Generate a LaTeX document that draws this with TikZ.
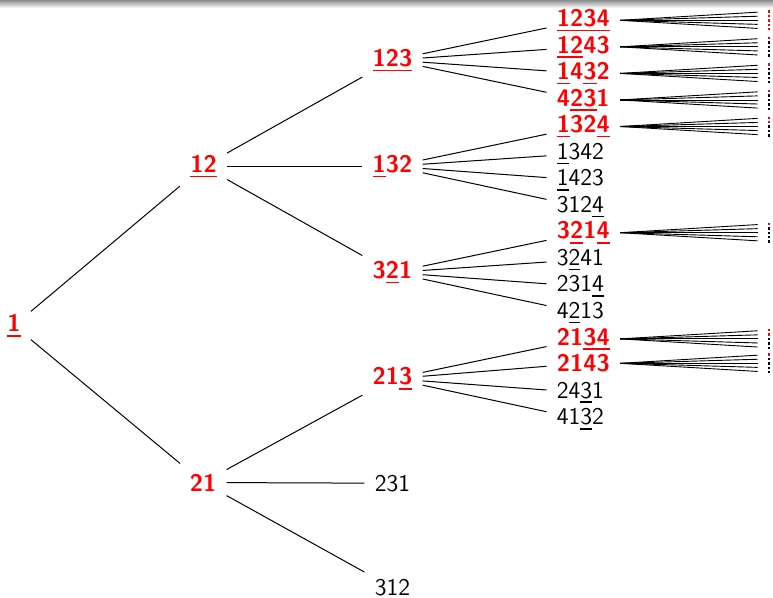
\documentclass[tikz,border=0pt]{standalone}
\usepackage{xcolor}
\usepackage{tikz}
\usetikzlibrary{calc}
\definecolor{invred}{HTML}{FF0000}
\definecolor{bargray}{HTML}{8C8C8C}
% underline one run of fixed points
\newcommand\fx[1]{\setbox0\hbox{#1}\rlap{\rule[-2.4pt]{\wd0}{0.75pt}}\box0\relax}
\tikzset{
  perm/.style={font=\sffamily\fontsize{12}{14}\selectfont,inner sep=5pt,anchor=base},
  inv/.style={perm,text=invred,font=\sffamily\bfseries\fontsize{12}{14}\selectfont},
  leaf/.style={anchor=base west},
  edge/.style={draw=black,line width=0.5pt},
  fanline/.style={edge,line width=0.45pt,shorten >=4.9pt},
  dot/.style={rectangle,inner sep=0pt,minimum size=1.2pt},
}
% five children of a level-4 involution
\newcommand\fanout[2]{%
  \foreach \c [count=\k] in {#2}{%
    \path (rim |- #1.east) ++(0,{(\k-3)*4.4}) node[dot,fill=\c] (#1-\k) {};
    \draw[fanline] (#1.east) -- (#1-\k);
  }}

\begin{document}
\begin{tikzpicture}[x=0.5pt,y=-0.5pt]
  \useasboundingbox (0,0) rectangle (773,598);
  \shade[top color=bargray,bottom color=white] (0,0) rectangle (773,8);
  \coordinate (rim) at (769,0);
  % levels 1 to 3
  \node[inv] (n1) at (14,331.8) {\fx{1}};
  \node[inv] (n12) at (203.5,172.5) {\fx{12}};
  \node[inv] (n21) at (203,491.1) {21};
  \node[inv] (n123) at (392.5,66.3) {\fx{123}};
  \node[inv] (n132) at (392.5,172.5) {\fx{1}32};
  \node[inv] (n321) at (392.5,278.7) {3\fx{2}1};
  \node[inv] (n213) at (392.5,384.9) {21\fx{3}};
  \node[perm] (n231) at (392.5,491.1) {231};
  \node[perm] (n312) at (392.5,595.5) {312};
  % level 4
  \node[inv,leaf] (p1234) at (546.5,26.5) {\fx{1234}};
  \node[inv,leaf] (p1243) at (546.5,53.05) {\fx{12}43};
  \node[inv,leaf] (p1432) at (546.5,79.6) {\fx{1}4\fx{3}2};
  \node[inv,leaf] (p4231) at (546.5,106.15) {4\fx{23}1};
  \node[inv,leaf] (p1324) at (546.5,132.7) {\fx{1}32\fx{4}};
  \node[perm,leaf] (p1342) at (546.5,159.25) {\fx{1}342};
  \node[perm,leaf] (p1423) at (546.5,185.8) {\fx{1}423};
  \node[perm,leaf] (p3124) at (546.5,212.35) {312\fx{4}};
  \node[inv,leaf] (p3214) at (546.5,238.9) {3\fx{2}1\fx{4}};
  \node[perm,leaf] (p3241) at (546.5,265.45) {3\fx{2}41};
  \node[perm,leaf] (p2314) at (546.5,292) {231\fx{4}};
  \node[perm,leaf] (p4213) at (546.5,318.55) {4\fx{2}13};
  \node[inv,leaf] (p2134) at (546.5,345.1) {21\fx{34}};
  \node[inv,leaf] (p2143) at (546.5,371.65) {2143};
  \node[perm,leaf] (p2431) at (546.5,398.2) {24\fx{3}1};
  \node[perm,leaf] (p4132) at (546.5,424.75) {41\fx{3}2};
  % tree edges
  \draw[edge] (n1) -- (n12);
  \draw[edge] (n1) -- (n21);
  \draw[edge] (n12) -- (n123);
  \draw[edge] (n12) -- (n132);
  \draw[edge] (n12) -- (n321);
  \draw[edge] (n21) -- (n213);
  \draw[edge] (n21) -- (n231);
  \draw[edge] (n21) -- (n312);
  \draw[edge] (n123) -- (p1234);
  \draw[edge] (n123) -- (p1243);
  \draw[edge] (n123) -- (p1432);
  \draw[edge] (n123) -- (p4231);
  \draw[edge] (n132) -- (p1324);
  \draw[edge] (n132) -- (p1342);
  \draw[edge] (n132) -- (p1423);
  \draw[edge] (n132) -- (p3124);
  \draw[edge] (n321) -- (p3214);
  \draw[edge] (n321) -- (p3241);
  \draw[edge] (n321) -- (p2314);
  \draw[edge] (n321) -- (p4213);
  \draw[edge] (n213) -- (p2134);
  \draw[edge] (n213) -- (p2143);
  \draw[edge] (n213) -- (p2431);
  \draw[edge] (n213) -- (p4132);
  % level 5, only below the involutions
  \fanout{p1234}{invred,invred,invred,invred,invred}
  \fanout{p1243}{invred,black,black,black,black}
  \fanout{p1432}{invred,black,black,black,black}
  \fanout{p4231}{invred,black,black,black,black}
  \fanout{p1324}{invred,invred,black,black,black}
  \fanout{p3214}{invred,black,black,black,black}
  \fanout{p2134}{invred,invred,black,black,black}
  \fanout{p2143}{invred,black,black,black,black}
\end{tikzpicture}
\end{document}
